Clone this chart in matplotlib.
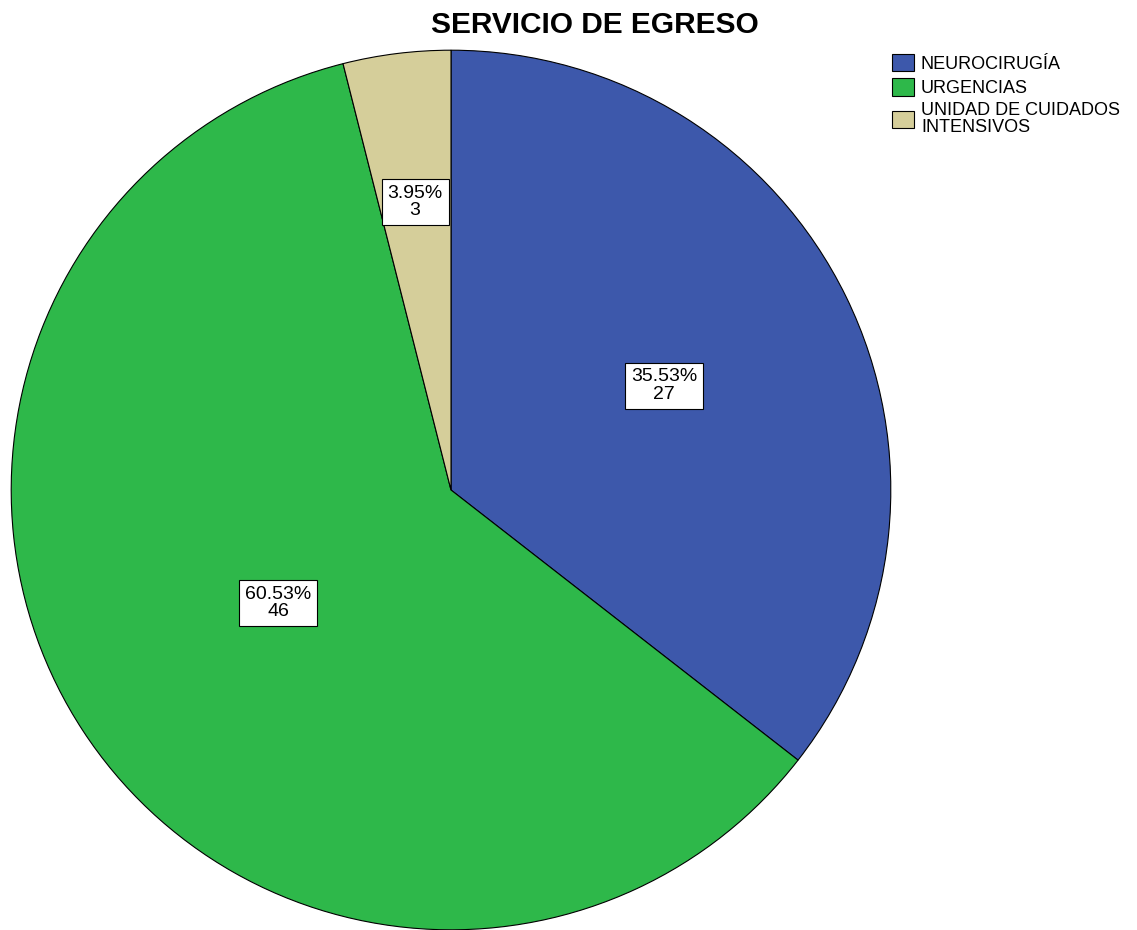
import matplotlib
matplotlib.use('Agg')
import matplotlib.pyplot as plt
import numpy as np

categories = ['NEUROCIRUGÍA', 'URGENCIAS', 'UNIDAD DE CUIDADOS\nINTENSIVOS']
counts = [27, 46, 3]
colors = ['#3D58AB', '#2EB84A', '#D5CE9A']
label_dist = [0.54, 0.47, 0.66]

plt.rcParams['font.family'] = ['Liberation Sans', 'DejaVu Sans']

fig = plt.figure(figsize=(11.37, 9.30), dpi=100)
# pie centre ~ (451, 490) px, radius ~442 px
ax = fig.add_axes([9 / 1137, (930 - 490 - 442) / 930, 884 / 1137, 884 / 930])
wedges, _ = ax.pie(counts, colors=colors, startangle=90, counterclock=False,
                   radius=1.0, wedgeprops=dict(edgecolor='black', linewidth=0.8))
ax.set_xlim(-1.005, 1.005)
ax.set_ylim(-1.005, 1.005)
ax.set_aspect('equal')
ax.axis('off')

total = sum(counts)
for w, c, d in zip(wedges, counts, label_dist):
    mid = np.deg2rad((w.theta1 + w.theta2) / 2)
    ax.text(d * np.cos(mid), d * np.sin(mid), f"{100 * c / total:.2f}%\n{c}",
            ha='center', va='center', fontsize=14, linespacing=1.05,
            bbox=dict(boxstyle='square,pad=0.3', facecolor='white', edgecolor='black', linewidth=0.8))

fig.text(595 / 1137, 1 - 25 / 930, 'SERVICIO DE EGRESO', ha='center', va='center',
         fontsize=21.5, fontweight='bold')

leg = fig.legend(wedges, categories, loc='upper left', bbox_to_anchor=(892 / 1137, 1 - 54 / 930),
                 frameon=False, fontsize=13, handlelength=1.2, handleheight=1.1,
                 handletextpad=0.4, labelspacing=0.3, borderaxespad=0, borderpad=0)
leg.get_texts()[2].set_linespacing(1.0)

fig.savefig('out.png', dpi=100)
